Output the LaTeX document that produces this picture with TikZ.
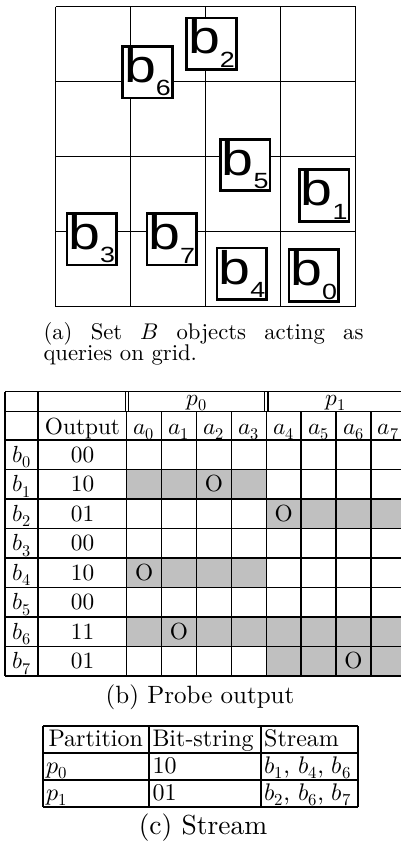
\documentclass[tikz,border=0pt]{standalone}
\usepackage{fontspec}
\usepackage{unicode-math}
\setmainfont{lmroman10-regular.otf}[BoldFont=lmroman10-bold.otf, ItalicFont=lmroman10-italic.otf]
\setmathfont{Latin Modern Math}
\usepackage{graphicx}
\newfontfamily\arialfont{Liberation Sans}
\definecolor{cellgray}{RGB}{192,192,192}
\newcommand{\tabfont}{\fontsize{23.3}{28}\selectfont}
\newcommand{\tabcfont}{\fontsize{24}{28}\selectfont}
\newcommand{\qb}[1]{\scalebox{1.22}[1]{\arialfont\fontsize{47}{47}\selectfont b\raisebox{-13.5pt}{\fontsize{22}{22}\selectfont #1}}}
\tikzset{
  gridline/.style={line width=1.3pt},
  qbox/.style={draw, line width=2.6pt, fill=white, minimum width=49.5pt, minimum height=51.5pt, inner sep=0pt},
  tline/.style={line width=1.5pt},
  tthick/.style={line width=2.3pt},
  tb/.style={anchor=base, inner sep=0pt, font=\tabfont},
  tc/.style={anchor=base west, inner sep=0pt, font=\tabcfont},
}
\begin{document}
\begin{tikzpicture}[x=1pt,y=-1pt]
\useasboundingbox (0,0) rectangle (401,841);
% ---------- (a) grid ----------
\foreach \i in {0,...,4}{
  \draw[gridline] (55.7+75*\i,6.7) -- (55.7+75*\i,306.7);
  \draw[gridline] (55.7,6.7+75*\i) -- (355.7,6.7+75*\i);
}
\node[qbox] (q6) at (147.5,72.3) {\qb{6}};
\node[qbox] (q2) at (211.5,43.7) {\qb{2}};
\node[qbox] (q5) at (245.2,165) {\qb{5}};
\node[qbox] (q1) at (324.2,195.5) {\qb{1}};
\node[qbox] (q3) at (91.7,239.3) {\qb{3}};
\node[qbox] (q7) at (171.7,239.3) {\qb{7}};
\node[qbox] (q4) at (241.8,273.8) {\qb{4}};
\node[qbox] (q0) at (313.7,275.5) {\qb{0}};
% caption (a)
\node[anchor=base west, inner sep=0pt, font=\fontsize{22.7}{26}\selectfont] (capa1) at (43.3,339) {\makebox[320pt][s]{(a) Set $B$ objects acting as}};
\node[anchor=base west, inner sep=0pt, font=\fontsize{22.7}{26}\selectfont] (capa2) at (43.3,360.7) {queries on grid.};
% ---------- (b) table ----------
\fill[cellgray] (126.7,469.5) rectangle (266.3,499);
\fill[cellgray] (266.3,499) rectangle (405.9,528.5);
\fill[cellgray] (126.7,558) rectangle (266.3,587.5);
\fill[cellgray] (126.7,617) rectangle (405.9,646.5);
\fill[cellgray] (266.3,646.5) rectangle (405.9,676);
\foreach \y in {391.7,411.7,440,469.5,499,528.5,558,587.5,617,646.5,676}{
  \draw[tline] (5,\y) -- (405.9,\y);
}
\draw[tthick] (5,391.7) -- (5,676);
\draw[tthick] (38.3,391.7) -- (38.3,676);
\foreach \x in {126.7,161.6,196.5,231.4,266.3,301.2,336.1,371}{
  \draw[tline] (\x,411.7) -- (\x,676);
}
\draw[line width=1.2pt] (125.2,391.7) -- (125.2,411.7) (128.4,391.7) -- (128.4,411.7);
\draw[line width=1.2pt] (264.8,391.7) -- (264.8,411.7) (268,391.7) -- (268,411.7);
\node[tb] (p0) at (196.5,405) {$p_0$};
\node[tb] (p1) at (336.1,405) {$p_1$};
\node[tb] (out) at (82.5,434) {Output};
\foreach \i in {0,...,7}{
  \node[tb] (a\i) at (144.15+34.9*\i,434) {$a_{\i}$};
}
\foreach \i/\v/\yb in {0/00/462,1/10/491.5,2/01/521,3/00/550.5,4/10/580,5/00/609.5,6/11/639,7/01/668.5}{
  \node[tb] (rb\i) at (21.7,\yb) {$b_{\i}$};
  \node[tb] (ro\i) at (82.5,\yb) {\v};
}
\node[tb] (o1) at (213.95,491.5) {O};
\node[tb] (o2) at (283.75,521) {O};
\node[tb] (o4) at (144.15,580) {O};
\node[tb] (o6) at (179.05,639) {O};
\node[tb] (o7) at (353.55,668.5) {O};
\node[anchor=base, inner sep=0pt, font=\fontsize{25}{30}\selectfont] (capb) at (200,703) {(b) Probe output};
% ---------- (c) table ----------
\foreach \y in {726,753,780,807}{
  \draw[line width=1.7pt] (43.3,\y) -- (358.3,\y);
}
\foreach \x in {43.3,149.3,261.2,358.3}{
  \draw[line width=1.7pt] (\x,726) -- (\x,807);
}
\node[tc] (h1) at (48.3,746) {Partition};
\node[tc] (h2) at (152.3,746) {Bit-string};
\node[tc] (h3) at (264,746) {Stream};
\node[tc] (c11) at (46.5,773) {$p_0$};
\node[tc] (c12) at (152.3,773) {10};
\node[tc] (c13) at (264,773) {$b_1$, $b_4$, $b_6$};
\node[tc] (c21) at (46.5,800) {$p_1$};
\node[tc] (c22) at (152.3,800) {01};
\node[tc] (c23) at (264,800) {$b_2$, $b_6$, $b_7$};
\node[anchor=base, inner sep=0pt, font=\fontsize{27.5}{32}\selectfont] (capc) at (203,834) {(c) Stream};
\end{tikzpicture}
\end{document}
